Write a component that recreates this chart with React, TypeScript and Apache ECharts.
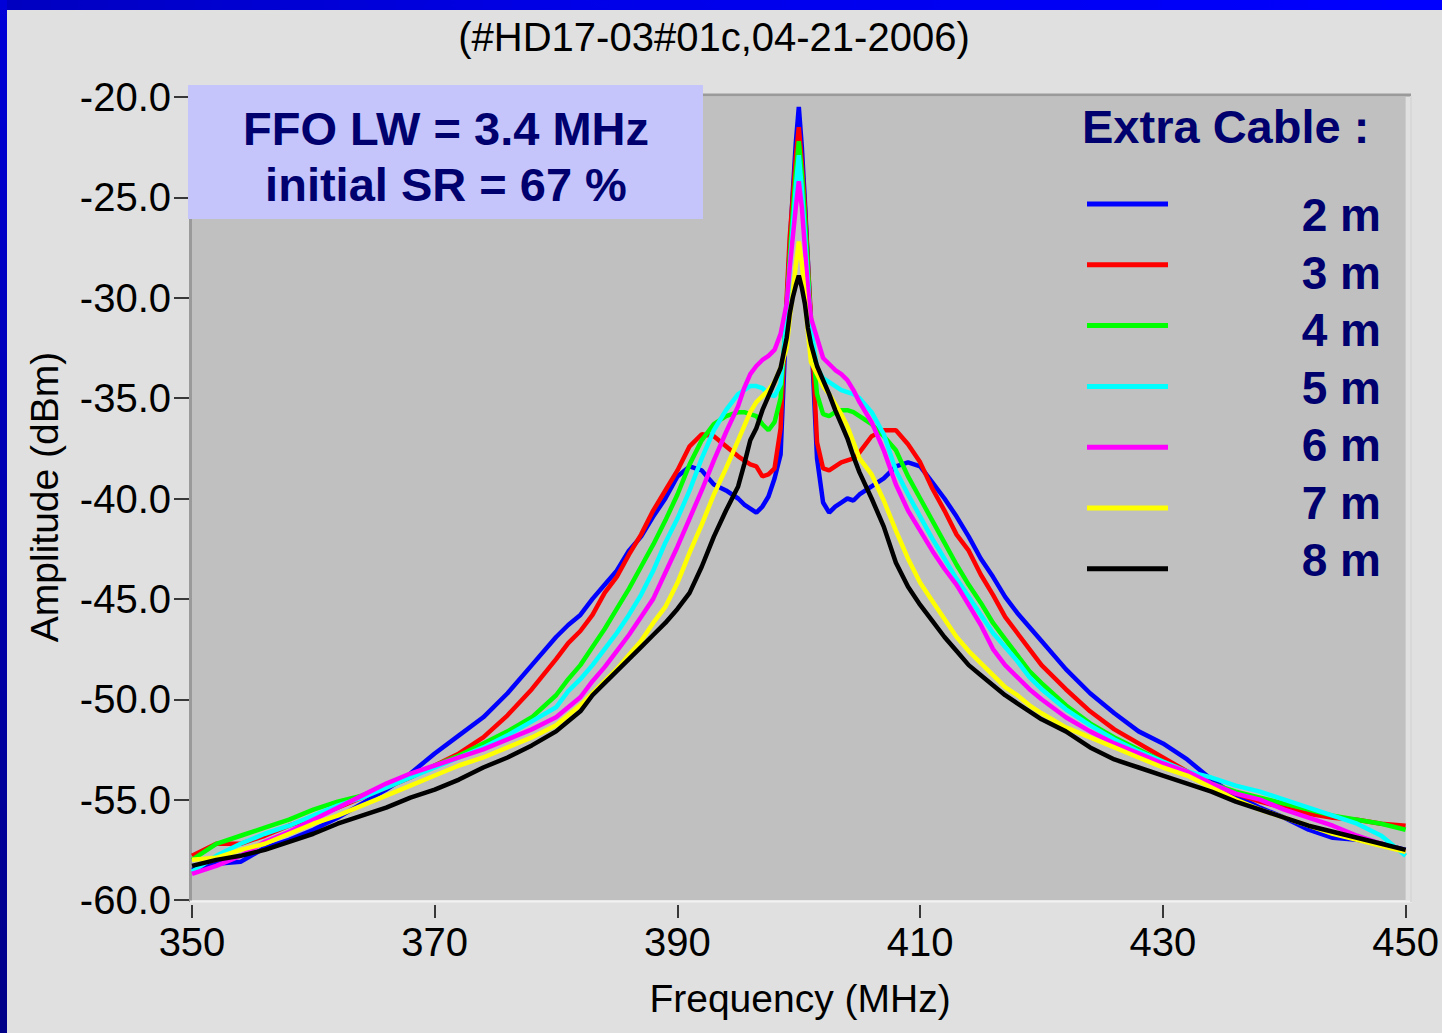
import React, { useEffect, useRef } from 'react';
import * as echarts from 'echarts';

// ---------- data ----------
const FREQ_MHZ = [
  350, 352, 354, 356, 358, 360, 362, 364, 366, 368, 370, 372, 374, 376, 378, 380,
  381, 382, 383, 384, 385, 386, 387, 388, 389, 390, 391, 392, 393, 394, 395,
  395.5, 396, 396.5, 397, 397.5, 398, 398.5, 399,
  399.25, 399.5, 399.75, 400, 400.25, 400.5, 400.75,
  401, 401.5, 402, 402.5, 403, 403.5, 404, 404.5, 405,
  406, 407, 408, 409, 410, 411, 412, 413, 414, 415, 416, 417, 418, 419, 420,
  422, 424, 426, 428, 430, 432, 434, 436, 438, 440, 442, 444, 446, 448, 450,
];

const AMP_2M = [
  -58.5, -58.2, -58.1, -57.4, -57.0, -56.5, -55.9, -55.2, -54.5, -53.7, -52.7, -51.8, -50.9, -49.7, -48.3, -46.9,
  -46.3, -45.8, -45.0, -44.3, -43.6, -42.6, -41.9, -40.9, -40.0, -38.9, -38.4, -38.6, -39.3, -39.6, -40.0,
  -40.3, -40.5, -40.7, -40.4, -39.9, -39.0, -37.8, -30.5,
  -27.5, -24.8, -22.3, -20.5, -22.5, -25.2, -28.2,
  -31.5, -38.0, -40.2, -40.7, -40.4, -40.2, -40.0, -40.1, -39.8,
  -39.4, -39.0, -38.4, -38.2, -38.4, -39.2, -40.0, -40.9, -41.9, -43.0, -43.9, -44.9, -45.7, -46.4, -47.1,
  -48.5, -49.7, -50.7, -51.6, -52.2, -53.0, -54.0, -54.8, -55.4, -55.9, -56.5, -56.9, -57.0, -57.2, -57.5,
];

const AMP_3M = [
  -57.8, -57.2, -57.2, -56.8, -56.3, -55.9, -55.4, -54.9, -54.4, -53.9, -53.3, -52.7, -51.9, -50.8, -49.5, -48.0,
  -47.2, -46.6, -45.8, -44.7, -43.9, -42.8, -41.8, -40.6, -39.6, -38.6, -37.4, -36.8, -36.9, -37.4, -37.9,
  -38.1, -38.3, -38.4, -38.9, -38.8, -38.5, -36.5, -30.0,
  -27.0, -25.0, -23.0, -21.5, -23.3, -25.5, -28.3,
  -31.0, -37.2, -38.5, -38.6, -38.4, -38.2, -38.1, -38.0, -37.7,
  -36.9, -36.6, -36.6, -37.3, -38.2, -39.5, -40.6, -41.8, -42.6, -43.8, -44.8, -45.9, -46.7, -47.5, -48.3,
  -49.5, -50.6, -51.5, -52.2, -52.9, -53.6, -54.2, -54.7, -55.1, -55.4, -55.7, -55.9, -56.0, -56.2, -56.3,
];

const AMP_4M = [
  -58.0, -57.2, -56.8, -56.4, -56.0, -55.5, -55.1, -54.8, -54.3, -53.8, -53.3, -52.8, -52.2, -51.6, -50.9, -49.8,
  -49.0, -48.3, -47.4, -46.5, -45.5, -44.5, -43.4, -42.3, -41.1, -39.8, -38.3, -37.1, -36.3, -35.9, -35.7,
  -35.7, -35.8, -35.9, -36.3, -36.6, -36.2, -35.0, -30.5,
  -28.0, -25.8, -23.8, -22.2, -23.8, -26.0, -28.6,
  -31.5, -34.8, -35.8, -35.9, -35.7, -35.6, -35.6, -35.7, -35.9,
  -36.3, -36.9, -37.6, -38.9, -40.0, -41.1, -42.2, -43.3, -44.3, -45.2, -46.2, -47.0, -47.8, -48.6, -49.2,
  -50.3, -51.2, -51.9, -52.5, -53.1, -53.7, -54.2, -54.6, -54.9, -55.2, -55.5, -55.8, -56.0, -56.2, -56.5,
];

const AMP_5M = [
  -58.6, -57.8, -57.2, -56.7, -56.3, -55.8, -55.3, -54.9, -54.4, -53.9, -53.4, -52.9, -52.4, -51.8, -51.1, -50.4,
  -49.6, -49.0, -48.3, -47.5, -46.7, -45.8, -44.8, -43.6, -42.2, -41.0, -39.6, -38.0, -36.6, -35.6, -34.8,
  -34.6, -34.4, -34.4, -34.5, -34.8, -34.9, -34.3, -31.0,
  -28.5, -26.5, -24.5, -22.9, -24.6, -26.8, -29.2,
  -31.5, -33.5, -34.0, -34.2, -34.4, -34.6, -34.7, -34.8, -35.0,
  -35.7, -36.8, -38.6, -39.8, -40.9, -42.0, -43.0, -44.0, -44.9, -45.8, -46.7, -47.4, -48.1, -48.9, -49.5,
  -50.5, -51.3, -52.0, -52.6, -53.1, -53.6, -53.9, -54.3, -54.6, -55.0, -55.4, -55.8, -56.2, -56.8, -57.8,
];

const AMP_6M = [
  -58.7, -58.3, -57.8, -57.1, -56.6, -56.0, -55.4, -54.8, -54.2, -53.7, -53.3, -52.9, -52.5, -52.0, -51.5, -50.9,
  -50.4, -49.9, -49.1, -48.4, -47.6, -46.8, -45.9, -45.0, -43.7, -42.4, -41.0, -39.6, -38.1, -36.7, -35.4,
  -34.5, -33.8, -33.4, -33.1, -32.9, -32.6, -31.8, -30.3,
  -28.5, -27.0, -25.5, -24.2, -25.5, -27.5, -29.5,
  -31.0, -32.0, -33.0, -33.3, -33.6, -33.8, -34.1, -34.6, -35.2,
  -36.2, -37.6, -39.3, -40.6, -41.6, -42.6, -43.5, -44.3, -45.3, -46.3, -47.5, -48.3, -48.9, -49.5, -50.0,
  -50.9, -51.6, -52.2, -52.7, -53.2, -53.6, -54.2, -54.7, -55.0, -55.5, -55.9, -56.3, -56.8, -57.2, -57.6,
];

const AMP_7M = [
  -58.0, -57.9, -57.5, -57.2, -56.7, -56.2, -55.8, -55.3, -54.8, -54.3, -53.8, -53.3, -52.9, -52.4, -51.9, -51.3,
  -50.8, -50.3, -49.7, -49.1, -48.5, -47.8, -47.1, -46.2, -45.4, -44.2, -42.7, -41.3, -39.8, -38.5, -37.1,
  -36.4, -35.7, -35.2, -34.9, -34.6, -34.2, -33.5, -32.5,
  -31.0, -29.8, -28.4, -27.2, -28.3, -30.0, -31.7,
  -33.2, -33.8, -34.4, -34.8, -35.3, -35.8, -36.4, -37.2, -38.0,
  -38.8, -40.1, -41.6, -43.0, -44.2, -45.1, -46.0, -46.9, -47.6, -48.2, -48.8, -49.4, -49.8, -50.3, -50.7,
  -51.4, -51.9, -52.4, -52.9, -53.4, -53.8, -54.4, -55.0, -55.5, -55.9, -56.3, -56.7, -57.0, -57.3, -57.6,
];

const AMP_8M = [
  -58.3, -58.0, -57.8, -57.5, -57.1, -56.7, -56.2, -55.8, -55.4, -54.9, -54.5, -54.0, -53.4, -52.9, -52.3, -51.6,
  -51.1, -50.6, -49.8, -49.2, -48.6, -48.0, -47.4, -46.8, -46.2, -45.5, -44.7, -43.4, -41.9, -40.6, -39.4,
  -38.3, -37.1, -36.5, -35.6, -34.9, -34.2, -33.5, -32.0,
  -30.8, -30.0, -29.4, -28.9, -29.5, -30.3, -31.5,
  -32.3, -33.4, -34.1, -34.8, -35.6, -36.3, -37.0, -37.9, -38.7,
  -40.0, -41.4, -43.2, -44.4, -45.3, -46.1, -46.9, -47.6, -48.3, -48.8, -49.3, -49.8, -50.2, -50.6, -51.0,
  -51.6, -52.4, -53.0, -53.4, -53.8, -54.2, -54.6, -55.1, -55.5, -55.9, -56.3, -56.6, -56.9, -57.2, -57.5,
];

const CABLE_LABELS = ['2 m', '3 m', '4 m', '5 m', '6 m', '7 m', '8 m'];
const SERIES_VALUES = [AMP_2M, AMP_3M, AMP_4M, AMP_5M, AMP_6M, AMP_7M, AMP_8M];
const X_TICK_VALUES = [350, 370, 390, 410, 430, 450];

const TITLE_TEXT = '(#HD17-03#01c,04-21-2006)';
const NOTE_LINES = ['FFO LW = 3.4 MHz', 'initial SR = 67 %'];
const LEGEND_TITLE = 'Extra Cable :';
const X_NAME = 'Frequency (MHz)';
const Y_NAME = 'Amplitude (dBm)';

// ---------- styles ----------
const COLORS = ['#0000ff', '#ff0000', '#00ff00', '#00ffff', '#ff00ff', '#ffff00', '#000000'];
const FONT = '"Liberation Sans", Arial, Helvetica, sans-serif';
const NAVY = '#00006e';

export default function App() {
  const ref = useRef<HTMLDivElement>(null);

  useEffect(() => {
    if (!ref.current) return;
    const chart = echarts.init(ref.current, undefined, { renderer: 'svg' });

    const series = SERIES_VALUES.map((vals, si) => ({
      name: CABLE_LABELS[si],
      type: 'line',
      data: FREQ_MHZ.map((f, i) => [f, vals[i]]),
      showSymbol: false,
      symbol: 'none',
      silent: true,
      lineStyle: { color: COLORS[si], width: 4.5 },
      itemStyle: { color: COLORS[si] },
      z: 2 + si,
    }));

    const legendGraphics: any[] = [];
    CABLE_LABELS.forEach((lab, i) => {
      const ly = 204 + i * 60.8;
      legendGraphics.push({
        type: 'line',
        shape: { x1: 1087, y1: ly, x2: 1168, y2: ly },
        style: { stroke: COLORS[i], lineWidth: 5 },
        z: 50,
      });
      legendGraphics.push({
        type: 'text',
        x: 1381,
        y: 215 + i * 57.5,
        style: {
          text: lab,
          fill: NAVY,
          fontSize: 46,
          fontWeight: 'bold',
          fontFamily: FONT,
          align: 'right',
          verticalAlign: 'middle',
        },
        z: 50,
      });
    });

    const option: any = {
      animation: false,
      backgroundColor: '#e0e0e0',
      grid: {
        left: 192,
        right: 32,
        top: 97,
        bottom: 133,
        show: true,
        backgroundColor: '#c0c0c0',
        borderWidth: 0,
        containLabel: false,
      },
      xAxis: {
        type: 'value',
        min: 350,
        max: 450,
        interval: 10,
        offset: 5,
        axisLine: { show: false },
        axisTick: {
          show: true,
          length: 13,
          customValues: X_TICK_VALUES,
          lineStyle: { color: '#000', width: 1.5 },
        },
        axisLabel: {
          customValues: X_TICK_VALUES,
          formatter: (v: number) => (X_TICK_VALUES.indexOf(v) >= 0 ? String(v) : ''),
          color: '#000',
          fontSize: 40,
          fontFamily: FONT,
          margin: 17,
        },
        splitLine: { show: false },
      },
      yAxis: {
        type: 'value',
        min: -60,
        max: -20,
        interval: 5,
        offset: 3,
        axisLine: { show: false },
        axisTick: { show: true, length: 15, lineStyle: { color: '#000', width: 1.5 } },
        axisLabel: {
          formatter: (v: number) => v.toFixed(1),
          color: '#000',
          fontSize: 40,
          fontFamily: FONT,
          margin: 18,
        },
        splitLine: { show: false },
      },
      series,
      graphic: [
        // blue slide frame
        {
          type: 'rect',
          shape: { x: 0, y: 0, width: 1442, height: 10 },
          style: {
            fill: new echarts.graphic.LinearGradient(0, 0, 1, 0, [
              { offset: 0, color: '#0000c0' },
              { offset: 0.4, color: '#0000e8' },
              { offset: 1, color: '#0000ff' },
            ]),
          },
          z: 1,
        },
        {
          type: 'rect',
          shape: { x: 0, y: 0, width: 7, height: 1033 },
          style: {
            fill: new echarts.graphic.LinearGradient(0, 0, 0, 1, [
              { offset: 0, color: '#0000d8' },
              { offset: 1, color: '#000088' },
            ]),
          },
          z: 1,
        },
        // sunken plot frame
        { type: 'line', shape: { x1: 189, y1: 95, x2: 1411, y2: 95 }, style: { stroke: '#9a9a9a', lineWidth: 3 }, z: 1 },
        { type: 'line', shape: { x1: 190.5, y1: 95, x2: 190.5, y2: 902 }, style: { stroke: '#9a9a9a', lineWidth: 3 }, z: 1 },
        { type: 'line', shape: { x1: 190, y1: 901.5, x2: 1412, y2: 901.5 }, style: { stroke: '#f2f2f2', lineWidth: 2 }, z: 1 },
        { type: 'line', shape: { x1: 1411, y1: 96, x2: 1411, y2: 902 }, style: { stroke: '#d8d8d8', lineWidth: 2 }, z: 1 },
        // title
        {
          type: 'text',
          x: 714,
          y: 37,
          style: {
            text: TITLE_TEXT,
            fill: '#000',
            fontSize: 40,
            fontFamily: FONT,
            align: 'center',
            verticalAlign: 'middle',
          },
        },
        // axis names
        {
          type: 'text',
          x: 800,
          y: 998,
          style: {
            text: X_NAME,
            fill: '#000',
            fontSize: 39,
            fontFamily: FONT,
            align: 'center',
            verticalAlign: 'middle',
          },
        },
        {
          type: 'text',
          x: 44,
          y: 497,
          rotation: Math.PI / 2,
          style: {
            text: Y_NAME,
            fill: '#000',
            fontSize: 39,
            fontFamily: FONT,
            align: 'center',
            verticalAlign: 'middle',
          },
        },
        // annotation box
        {
          type: 'rect',
          shape: { x: 188, y: 85, width: 515, height: 134 },
          style: { fill: '#c5c5fb' },
          z: 40,
        },
        ...NOTE_LINES.map((t, i) => ({
          type: 'text',
          x: 446,
          y: 128 + i * 56,
          style: {
            text: t,
            fill: NAVY,
            fontSize: 47,
            fontWeight: 'bold',
            fontFamily: FONT,
            align: 'center',
            verticalAlign: 'middle',
            shadowColor: 'rgba(0,0,0,0.55)',
            shadowOffsetX: 2,
            shadowOffsetY: 2,
            shadowBlur: 1,
          },
          z: 41,
        })),
        // legend
        {
          type: 'text',
          x: 1082,
          y: 126,
          style: {
            text: LEGEND_TITLE,
            fill: NAVY,
            fontSize: 47,
            fontWeight: 'bold',
            fontFamily: FONT,
            align: 'left',
            verticalAlign: 'middle',
          },
          z: 50,
        },
        ...legendGraphics,
      ],
    };

    chart.setOption(option);
    return () => chart.dispose();
  }, []);

  return (
    <div
      ref={ref}
      style={{ position: 'absolute', left: 0, top: 0, width: 1442, height: 1033 }}
    />
  );
}
